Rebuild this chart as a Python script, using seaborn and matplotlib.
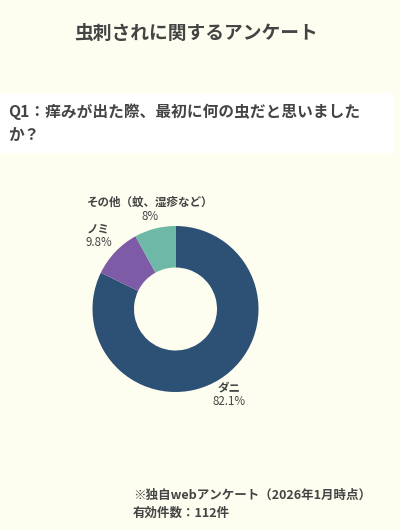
import numpy as np
import seaborn as sns
import matplotlib.pyplot as plt
from matplotlib.patches import Rectangle

# 虫刺されアンケート - ドーナツグラフ
labels = ["ダニ", "ノミ", "その他（蚊、湿疹など）"]
values = [82.1, 9.8, 8.0]
pct_text = ["82.1%", "9.8%", "8%"]
colors = ["#2D5075", "#7D5BA6", "#6DB8A7"]

title = "虫刺されに関するアンケート"
question = "Q1：痒みが出た際、最初に何の虫だと思いました\nか？"
footer = "※独自webアンケート（2026年1月時点）\n有効件数：112件"

sns.set_theme(style="white")
plt.rcParams['font.family'] = ['Noto Sans CJK JP', 'DejaVu Sans']

W, H = 400, 530
bg = "#FEFEF0"
txt = "#444444"
fig = plt.figure(figsize=(W / 100, H / 100), dpi=100, facecolor=bg)

# 質問の白い帯
fig.patches.append(Rectangle((0, 1 - 153 / H), 393 / W, 60 / H,
                             transform=fig.transFigure, facecolor="white",
                             edgecolor="none", zorder=0))

fig.text(0.49, 1 - 33 / H, title, ha="center", va="center",
         fontsize=13.5, fontweight="bold", color=txt)
fig.text(8 / W, 1 - 123 / H, question, ha="left", va="center",
         fontsize=11.3, fontweight="bold", color=txt, linespacing=1.5)
fig.text(133 / W, 1 - 504 / H, footer, ha="left", va="center",
         fontsize=9, fontweight="bold", color=txt, linespacing=1.5)

# ドーナツ
cx, cy, r = 175.5, 309, 83
ax = fig.add_axes([(cx - r) / W, 1 - (cy + r) / H, 2 * r / W, 2 * r / H])
ax.set_facecolor("none")
wedges, _ = ax.pie(values, colors=sns.color_palette(colors), startangle=90,
                   counterclock=False, radius=1,
                   wedgeprops=dict(width=0.5, edgecolor="none"))
ax.set_xlim(-1, 1)
ax.set_ylim(-1, 1)
ax.set_aspect("equal")
ax.axis("off")

dist = [1.22, 1.28, 1.24]
for w, name, p, d in zip(wedges, labels, pct_text, dist):
    ang = np.deg2rad((w.theta1 + w.theta2) / 2)
    x, y = d * np.cos(ang), d * np.sin(ang)
    ax.annotate(name, (x, y), xytext=(0, 5), textcoords="offset points",
                ha="center", va="center", fontsize=8.3, fontweight="bold",
                color=txt, annotation_clip=False)
    ax.annotate(p, (x, y), xytext=(0, -5), textcoords="offset points",
                ha="center", va="center", fontsize=8.3, color=txt,
                annotation_clip=False)

fig.savefig("out.png", dpi=100, facecolor=bg)
